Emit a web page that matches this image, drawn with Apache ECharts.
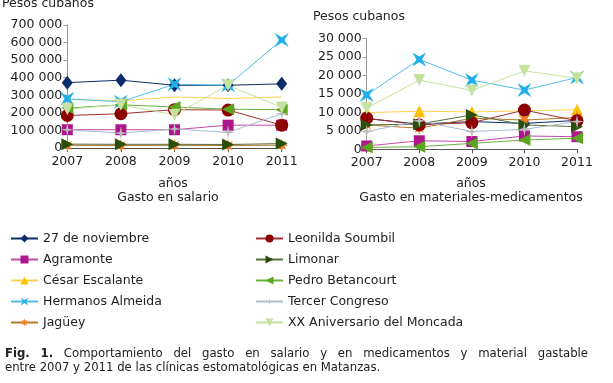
<!DOCTYPE html>
<html><head><meta charset="utf-8">
<script src="https://cdn.jsdelivr.net/npm/echarts@6/dist/echarts.min.js"></script>
<style>html,body{margin:0;padding:0;background:#fff}#c{width:613px;height:383px}</style>
</head><body><div id="c"></div>
<script>
// ---- data ----
const years = ['2007','2008','2009','2010','2011'];
const names = ['27 de noviembre','Agramonte','César Escalante','Hermanos Almeida','Jagüey','Leonilda Soumbil','Limonar','Pedro Betancourt','Tercer Congreso','XX Aniversario del Moncada'];
// Gasto en salario (pesos cubanos)
const salNov27    = [372000, 386000, 357000, 357000, 365000];
const salAgramonte= [104000, 104000, 104000, 130000, 130000];
const salCesar    = [276000, 269000, 290000, 282000, 290000];
const salHermanos = [280000, 263000, 363000, 357000, 615000];
const salJaguey   = [15000, 14000, 15000, 14000, 16000];
const salLeonilda = [185000, 195000, 218000, 216000, 130000];
const salLimonar  = [22000, 21000, 21000, 20000, 25000];
const salPedro    = [227000, 246000, 233000, 221000, 218000];
const salTercer   = [104000, 85000, 108000, 89000, 195000];
const salXX       = [221000, 246000, 189000, 357000, 231000];
// Gasto en materiales-medicamentos (pesos cubanos)
const matNov27    = [8300, 6800, 7500, 7000, 7800];
const matAgramonte= [900, 2300, 2100, 3600, 3400];
const matCesar    = [9900, 10300, 10100, 10400, 10700];
const matHermanos = [14700, 24300, 18700, 16000, 19400];
const matJaguey   = [6600, 5700, 8400, 7900, 8600];
const matLeonilda = [8400, 6600, 7200, 10600, 7700];
const matLimonar  = [6600, 6800, 9300, 6600, 6100];
const matPedro    = [500, 700, 1600, 2500, 3000];
const matTercer   = [4800, 7700, 4800, 5400, 7500];
const matXX       = [11100, 18700, 15900, 21200, 19200];

const salData = [salNov27,salAgramonte,salCesar,salHermanos,salJaguey,salLeonilda,salLimonar,salPedro,salTercer,salXX];
const matData = [matNov27,matAgramonte,matCesar,matHermanos,matJaguey,matLeonilda,matLimonar,matPedro,matTercer,matXX];

const caption1 = 'Fig. 1. Comportamiento del gasto en salario y en medicamentos y material gastable';
const caption2 = 'entre 2007 y 2011 de las clínicas estomatológicas en Matanzas.';

// ---- styles ----
function starPath(n, r1, r2){
  let p = [];
  for (let i=0;i<2*n;i++){
    const r = i%2===0 ? r1 : r2;
    const a = Math.PI*i/n - Math.PI/2;
    p.push((10+r*Math.cos(a)).toFixed(2)+','+(10+r*Math.sin(a)).toFixed(2));
  }
  return 'path://M'+p.join('L')+'Z';
}
const xPath = 'path://M0,0L10,6L20,0L14,10L20,20L10,14L0,20L6,10Z';
const colors = ['#0b2c6b','#b0168c','#ffc000','#1fb0e8','#f47c20','#8c0000','#2b4f0a','#5aa61e','#bdbdbd','#c5e1a0'];
const lineColors = ['#0b2c6b','#c34aa6','#ffd24d','#4cbfe9','#b07a2a','#a03030','#55703a','#6cb040','#a8bccf','#c5e1a0'];
const symbols = ['diamond','rect','triangle',xPath,starPath(8,10,4.5),'circle','triangle','triangle',starPath(4,10,2.2),'triangle'];
const rots = [0,0,0,0,0,0,-90,90,0,180];
const sizes = [[11,14],11,12,14,13,13,12,12,14,12];

const fontFam = 'DejaVu Sans, Verdana, sans-serif';
const fmt = v => v===0 ? '0' : String(v).replace(/\B(?=(\d{3})+(?!\d))/g,' ');

const series = [];
[salData, matData].forEach((set, gi) => {
  set.forEach((d, i) => {
    series.push({
      name: names[i], type:'line', xAxisIndex: gi, yAxisIndex: gi, data: d,
      symbol: symbols[i], symbolRotate: rots[i], symbolSize: sizes[i],
      showSymbol: !(gi===0 && i===2),
      itemStyle:{color: colors[i], borderWidth:0},
      lineStyle:{color: lineColors[i], width:1},
      emphasis:{disabled:true}, animation:false
    });
  });
});

// justified caption line 1
const capFont = 11.7;
const mctx = document.createElement('canvas').getContext('2d');
const words = caption1.split(' ');
const wInfo = words.map((w, k) => {
  const bold = k < 2;
  mctx.font = (bold?'bold ':'') + capFont + 'px ' + fontFam;
  return {w, bold, width: mctx.measureText(w).width};
});
const capLeft = 5, capRight = 588;
const totalW = wInfo.reduce((s,o)=>s+o.width,0);
const gap = (capRight - capLeft - totalW) / (words.length - 1);
const capGraphics = [];
let cx = capLeft;
wInfo.forEach(o => {
  capGraphics.push({type:'text', x:cx, y:354, style:{text:o.w, fill:'#222', font:(o.bold?'bold ':'')+capFont+'px '+fontFam, textVerticalAlign:'middle'}});
  cx += o.width + gap;
});
capGraphics.push({type:'text', x:5, y:368, style:{text:caption2, fill:'#222', font:capFont+'px '+fontFam, textVerticalAlign:'middle'}});

const axisLbl = {color:'#222', fontSize:12.5, fontFamily:fontFam};
const legendCommon = {top:227, orient:'vertical', itemWidth:27, itemHeight:10, itemGap:8,
     textStyle:{color:'#222', fontSize:12.5, fontFamily:fontFam}, selectedMode:false};
const option = {
  backgroundColor:'#fff',
  animation:false,
  grid:[
    {left:67.3, top:25, width:214.4, height:123},
    {left:366.7, top:38.3, width:210.3, height:111}
  ],
  xAxis:[0,1].map(i=>({
    type:'category', gridIndex:i, data:years, boundaryGap:false,
    axisLine:{lineStyle:{color:'#555'}}, axisTick:{show:true, length:4, lineStyle:{color:'#555'}},
    axisLabel:Object.assign({margin:7}, axisLbl)
  })),
  yAxis:[
    {type:'value', gridIndex:0, min:0, max:700000, interval:100000,
     axisLine:{show:true, lineStyle:{color:'#999'}}, axisTick:{show:true,length:4,lineStyle:{color:'#999'}},
     splitLine:{show:false}, axisLabel:Object.assign({formatter:fmt, margin:5}, axisLbl)},
    {type:'value', gridIndex:1, min:0, max:30000, interval:5000,
     axisLine:{show:true, lineStyle:{color:'#999'}}, axisTick:{show:true,length:4,lineStyle:{color:'#999'}},
     splitLine:{show:false}, axisLabel:Object.assign({formatter:fmt, margin:5}, axisLbl)}
  ],
  legend:[
    Object.assign({data:names.slice(0,5), left:5}, legendCommon),
    Object.assign({data:names.slice(5), left:250}, legendCommon)
  ],
  graphic:[
    {type:'text', left:2, top:-3, style:{text:'Pesos cubanos', fill:'#222', font:'12.5px '+fontFam}},
    {type:'text', left:313, top:10, style:{text:'Pesos cubanos', fill:'#222', font:'12.5px '+fontFam}},
    {type:'text', x:173, y:184, style:{text:'años', fill:'#222', font:'12.5px '+fontFam, textAlign:'center', textVerticalAlign:'middle'}},
    {type:'text', x:168, y:198, style:{text:'Gasto en salario', fill:'#222', font:'12.5px '+fontFam, textAlign:'center', textVerticalAlign:'middle'}},
    {type:'text', x:471, y:184, style:{text:'años', fill:'#222', font:'12.5px '+fontFam, textAlign:'center', textVerticalAlign:'middle'}},
    {type:'text', x:471, y:198, style:{text:'Gasto en materiales-medicamentos', fill:'#222', font:'12.5px '+fontFam, textAlign:'center', textVerticalAlign:'middle'}}
  ].concat(capGraphics),
  series: series
};
const chart = echarts.init(document.getElementById('c'), null, {renderer:'canvas'});
chart.setOption(option);
</script>
</body></html>
